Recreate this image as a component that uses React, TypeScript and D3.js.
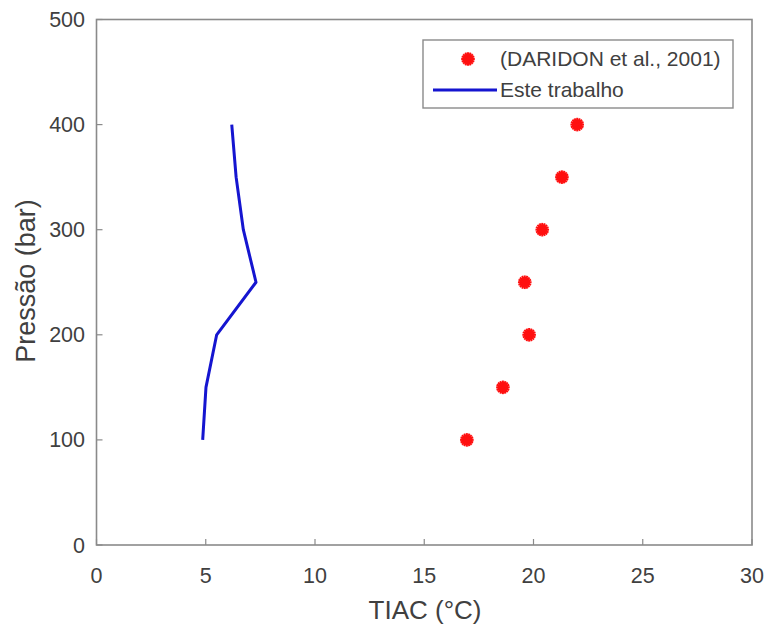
import React from "react";
import * as d3 from "d3";

const pressures = [100, 150, 200, 250, 300, 350, 400];
const tiacDaridon = [16.95, 18.6, 19.8, 19.6, 20.4, 21.3, 22.0];
const tiacModel = [4.86, 5.01, 5.5, 7.3, 6.72, 6.39, 6.19];
const xTicks = [0, 5, 10, 15, 20, 25, 30];
const yTicks = [0, 100, 200, 300, 400, 500];
const legendLabels = ["(DARIDON et al., 2001)", "Este trabalho"];

const W = 767, H = 625;
const L = 96.5, R = 752, T = 19.5, B = 545;
const axisColor = "#8a8a8a";
const textColor = "#404040";
const font = "Liberation Sans, Arial, sans-serif";

function Marker({ x, y }: { x: number; y: number }) {
  const r = 6.8;
  const angles = [0, 45, 90, 135, 22.5, 67.5, 112.5, 157.5];
  return (
    <g transform={`translate(${x},${y})`}>
      <circle r={5.4} fill="#ff1010" />
      {angles.map((a) => {
        const rad = (a * Math.PI) / 180;
        return (
          <line key={a} x1={-r * Math.cos(rad)} y1={-r * Math.sin(rad)} x2={r * Math.cos(rad)} y2={r * Math.sin(rad)}
            stroke="#ff1010" strokeWidth={2} />
        );
      })}
    </g>
  );
}

export default function App() {
  const x = d3.scaleLinear().domain([0, 30]).range([L, R]);
  const y = d3.scaleLinear().domain([0, 500]).range([B, T]);
  const line = d3.line<number>().x((d, i) => x(tiacModel[i])).y((d) => y(d));
  return (
    <svg width={W} height={H} style={{ position: "absolute", left: 0, top: 0, background: "#fff" }}>
      <rect x={0} y={0} width={W} height={H} fill="#fff" />
      <rect x={L} y={T} width={R - L} height={B - T} fill="#fff" stroke={axisColor} strokeWidth={1.6} />
      {xTicks.map((t) => (
        <g key={"x" + t}>
          <line x1={x(t)} x2={x(t)} y1={B} y2={B - 6} stroke={axisColor} strokeWidth={1.2} />
          <text x={x(t)} y={583} textAnchor="middle" fontFamily={font} fontSize={21.5} fill={textColor}>{t}</text>
        </g>
      ))}
      {yTicks.map((t) => (
        <g key={"y" + t}>
          <line x1={L} x2={L + 6} y1={y(t)} y2={y(t)} stroke={axisColor} strokeWidth={1.2} />
          <text x={85} y={y(t) + 7.5} textAnchor="end" fontFamily={font} fontSize={21.5} fill={textColor}>{t}</text>
        </g>
      ))}
      <text x={425} y={619} textAnchor="middle" fontFamily={font} fontSize={26} fill={textColor}>TIAC (°C)</text>
      <text transform={`translate(35,281) rotate(-90)`} textAnchor="middle" fontFamily={font} fontSize={27} fill={textColor}>Pressão (bar)</text>
      <path d={line(pressures) || ""} fill="none" stroke="#1515d0" strokeWidth={3} strokeLinejoin="round" />
      {pressures.map((p, i) => (
        <Marker key={p} x={x(tiacDaridon[i])} y={y(p)} />
      ))}
      <g>
        <rect x={423} y={40} width={310} height={68} fill="#fff" stroke={axisColor} strokeWidth={1.4} />
        <Marker x={468} y={59} />
        <text x={500} y={66} fontFamily={font} fontSize={21} fill={textColor}>{legendLabels[0]}</text>
        <line x1={433} x2={497} y1={90} y2={90} stroke="#1515d0" strokeWidth={3} />
        <text x={500} y={97} fontFamily={font} fontSize={21} fill={textColor}>{legendLabels[1]}</text>
      </g>
    </svg>
  );
}
